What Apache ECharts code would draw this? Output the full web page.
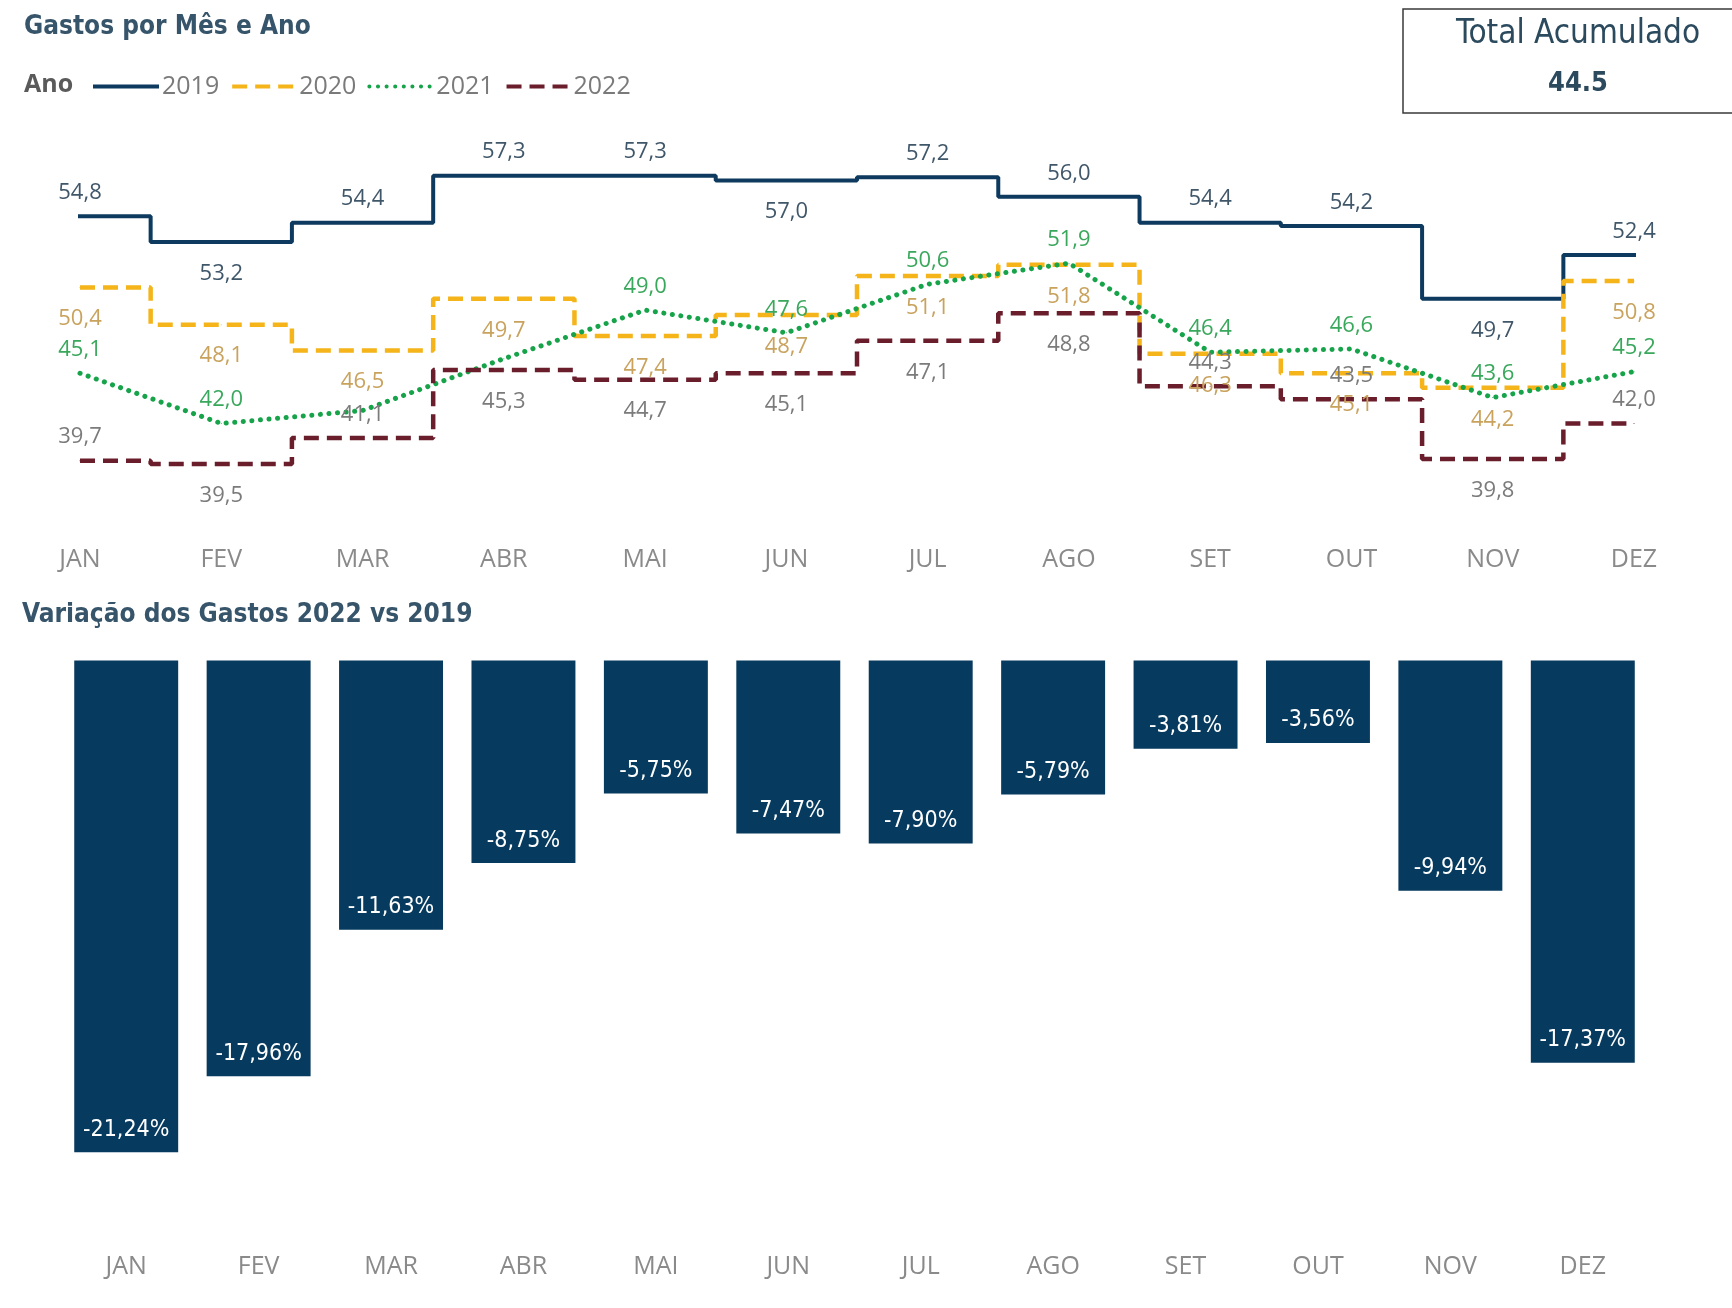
<!DOCTYPE html>
<html>
<head>
<meta charset="utf-8">
<title>Gastos por Mês e Ano</title>
<script src="https://cdn.jsdelivr.net/npm/echarts@6/dist/echarts.min.js"></script>
<style>
    html, body { margin: 0; padding: 0; background: #fff; }
    #main { width: 1732px; height: 1308px; }
</style>
</head>
<body>
<div id="main"></div>
<script>
const meses = ['JAN', 'FEV', 'MAR', 'ABR', 'MAI', 'JUN', 'JUL', 'AGO', 'SET', 'OUT', 'NOV', 'DEZ'];
const anos = ['2019', '2020', '2021', '2022'];
const gastos2019 = [54.8, 53.2, 54.4, 57.3, 57.3, 57.0, 57.2, 56.0, 54.4, 54.2, 49.7, 52.4];
const gastos2020 = [50.4, 48.1, 46.5, 49.7, 47.4, 48.7, 51.1, 51.8, 46.3, 45.1, 44.2, 50.8];
const gastos2021 = [45.1, 42.0, 42.8, 46.0, 49.0, 47.6, 50.6, 51.9, 46.4, 46.6, 43.6, 45.2];
const gastos2022 = [39.7, 39.5, 41.1, 45.3, 44.7, 45.1, 47.1, 48.8, 44.3, 43.5, 39.8, 42.0];
const variacao = [-21.24, -17.96, -11.63, -8.75, -5.75, -7.47, -7.90, -5.79, -3.81, -3.56, -9.94, -17.37];
const totalAcumulado = '44.5';

// onde fica cada rótulo: t = acima, b = abaixo, x = oculto
const rotulos2019 = ['t', 'b', 't', 't', 't', 'b', 't', 't', 't', 't', 'b', 't'];
const rotulos2020 = ['b', 'b', 'b', 'b', 'b', 'b', 'b', 'b', 'b', 'b', 'b', 'b'];
const rotulos2021 = ['t', 't', 'x', 'x', 't', 't', 't', 't', 't', 't', 't', 't'];
const rotulos2022 = ['t', 'b', 't', 'b', 'b', 'b', 'b', 'b', 't', 't', 'b', 't'];

const fonte = '"Open Sans", "Noto Sans", sans-serif';
const fonteTitulo = '"DejaVu Sans Condensed", "DejaVu Sans", sans-serif';

function fmt(v, casas) {
    return v.toFixed(casas).replace('.', ',');
}

function serieLinha(nome, valores, posicoes, cor, corRotulo, tipo, largura, degrau) {
    let cap = 'butt';
    if (tipo === 'solid') cap = 'square';
    else if (tipo[0] < 1) cap = 'round';
    return {
        name: nome,
        type: 'line',
        xAxisIndex: 0,
        yAxisIndex: 0,
        step: degrau ? 'middle' : false,
        symbol: 'circle',
        symbolSize: 1,
        showSymbol: true,
        data: valores.map((v, i) => ({
            value: v,
            label: {
                show: posicoes[i] !== 'x',
                position: posicoes[i] === 'b' ? 'bottom' : 'top',
                distance: posicoes[i] === 'b' ? 20 : 12
            }
        })),
        lineStyle: { color: cor, width: largura, type: tipo, cap: cap },
        itemStyle: { color: cor },
        label: {
            show: true,
            color: corRotulo,
            fontFamily: fonte,
            fontSize: 22,
            formatter: p => fmt(p.value, 1)
        },
        labelLayout: { hideOverlap: false },
        emphasis: { disabled: true }
    };
}

const chart = echarts.init(document.getElementById('main'));

const option = {
    backgroundColor: '#ffffff',
    animation: false,
    title: [
        {
            text: 'Gastos por Mês e Ano',
            left: 24, top: 14, padding: 0,
            textStyle: { fontFamily: fonteTitulo, fontSize: 26, fontWeight: 'bold', color: '#36546a' }
        },
        {
            text: 'Variação dos Gastos 2022 vs 2019',
            left: 22, top: 602, padding: 0,
            textStyle: { fontFamily: fonteTitulo, fontSize: 26, fontWeight: 'bold', color: '#36546a' }
        }
    ],
    legend: {
        data: anos,
        left: 93, top: 74,
        padding: 0,
        itemWidth: 62, itemHeight: 22, itemGap: 11,
        itemStyle: { opacity: 0 },
        lineStyle: { width: 4 },
        textStyle: { fontFamily: fonte, fontSize: 25, color: '#7a7a7a' },
        selectedMode: false
    },
    graphic: [
        {
            type: 'text', left: 24, top: 72,
            style: { text: 'Ano', font: 'bold 25px ' + fonte, fill: '#5a5a5a' }
        },
        {
            type: 'rect', shape: { x: 1403, y: 9, width: 345, height: 104 },
            style: { fill: 'none', stroke: '#3a3a3a', lineWidth: 1.5 }
        },
        {
            type: 'text', x: 1578, y: 34,
            style: { text: 'Total Acumulado', font: '33px ' + fonteTitulo, fill: '#2c4a5e', align: 'center', verticalAlign: 'middle' }
        },
        {
            type: 'text', x: 1578, y: 84,
            style: { text: totalAcumulado, font: 'bold 27px ' + fonteTitulo, fill: '#2c4a5e', align: 'center', verticalAlign: 'middle' }
        }
    ],
    grid: [
        { left: 80, right: 98, top: 132, height: 388.6 },
        { left: 60, right: 83, top: 660.5, height: 578.8 }
    ],
    xAxis: [
        {
            type: 'category', gridIndex: 0, data: meses, boundaryGap: false,
            axisLine: { show: false }, axisTick: { show: false }, splitLine: { show: false },
            axisLabel: { fontFamily: fonte, fontSize: 25, color: '#8a8a8a', margin: 27 }
        },
        {
            type: 'category', gridIndex: 1, data: meses,
            axisLine: { show: false, onZero: false }, axisTick: { show: false }, splitLine: { show: false },
            axisLabel: { fontFamily: fonte, fontSize: 25, color: '#8a8a8a', margin: 15 }
        }
    ],
    yAxis: [
        { type: 'value', gridIndex: 0, min: 36, max: 60, show: false, splitLine: { show: false } },
        { type: 'value', gridIndex: 1, min: -25, max: 0, show: false, splitLine: { show: false } }
    ],
    series: [
        serieLinha('2019', gastos2019, rotulos2019, '#0d3a5e', '#40576a', 'solid', 4, true),
        serieLinha('2020', gastos2020, rotulos2020, '#f4b41a', '#c9a35e', [15, 8], 4.5, true),
        serieLinha('2021', gastos2021, rotulos2021, '#17a34a', '#3aa85c', [0.1, 8.5], 5, false),
        serieLinha('2022', gastos2022, rotulos2022, '#6a1d2b', '#7b7b7b', [15, 8], 4.5, true),
        {
            name: 'Variação',
            type: 'bar',
            xAxisIndex: 1,
            yAxisIndex: 1,
            data: variacao,
            barWidth: '78.5%',
            itemStyle: { color: '#063a5e' },
            label: {
                show: true,
                position: 'insideBottom',
                distance: 11,
                color: '#ffffff',
                fontFamily: fonteTitulo,
                fontSize: 23,
                formatter: p => fmt(p.value, 2) + '%'
            },
            emphasis: { disabled: true }
        }
    ]
};

chart.setOption(option);
window.addEventListener('resize', () => chart.resize());
</script>
</body>
</html>
